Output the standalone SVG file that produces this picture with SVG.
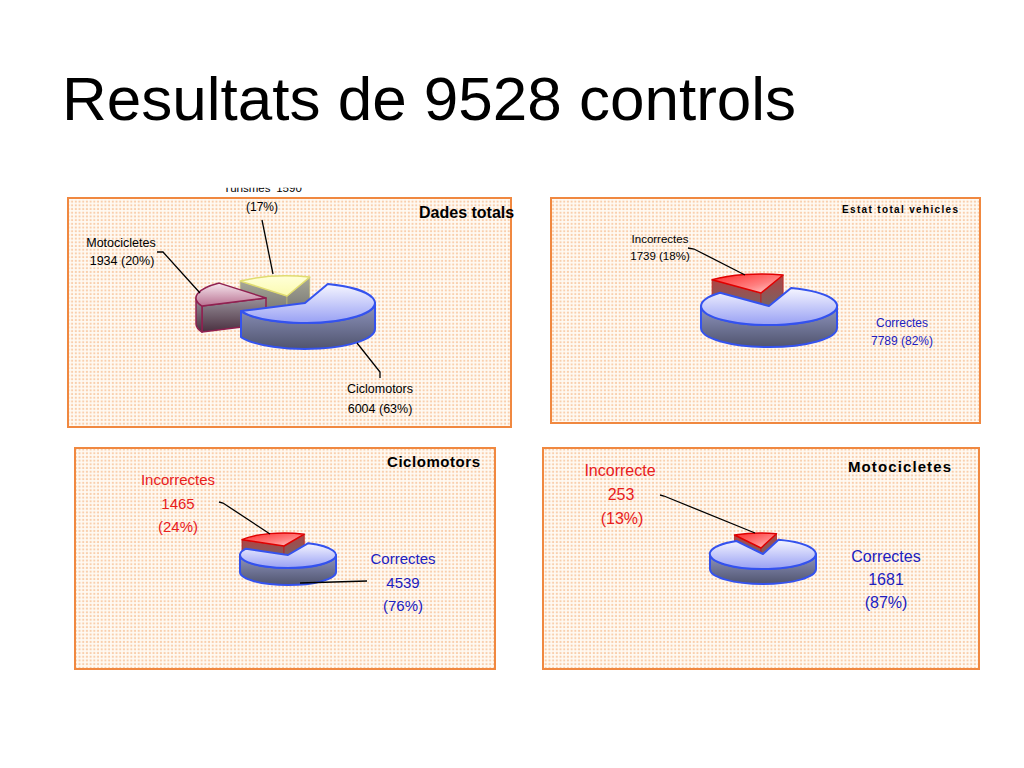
<svg xmlns="http://www.w3.org/2000/svg" width="1024" height="768" viewBox="0 0 1024 768">
<defs>
<pattern id="dots" width="3.7" height="3.7" patternUnits="userSpaceOnUse">
<rect width="3.7" height="3.7" fill="#fffaf3"/>
<rect x="0.8" y="0.8" width="2" height="2" fill="#f9cfad"/>
</pattern>
<linearGradient id="blueTop" x1="0" y1="0" x2="0" y2="1">
<stop offset="0" stop-color="#f6f6ff"/><stop offset="1" stop-color="#98a0f4"/>
</linearGradient>
<linearGradient id="blueSide" x1="0" y1="0" x2="0" y2="1">
<stop offset="0" stop-color="#9096c0"/><stop offset="1" stop-color="#50546e"/>
</linearGradient>
<linearGradient id="redTop" x1="0" y1="0" x2="1" y2="1">
<stop offset="0" stop-color="#ff2a2a"/><stop offset="0.6" stop-color="#ff8080"/><stop offset="1" stop-color="#ffd8d8"/>
</linearGradient>
<linearGradient id="redSide" x1="0" y1="0" x2="0" y2="1">
<stop offset="0" stop-color="#b04444"/><stop offset="1" stop-color="#6a6a6a"/>
</linearGradient>
<linearGradient id="yelTop" x1="0" y1="0" x2="0" y2="1">
<stop offset="0" stop-color="#ffffd8"/><stop offset="1" stop-color="#fbfbb0"/>
</linearGradient>
<linearGradient id="greySide" x1="0" y1="0" x2="0" y2="1">
<stop offset="0" stop-color="#a8a898"/><stop offset="1" stop-color="#686868"/>
</linearGradient>
<linearGradient id="marTop" x1="0" y1="0" x2="0" y2="1">
<stop offset="0" stop-color="#f6e6ee"/><stop offset="1" stop-color="#b87090"/>
</linearGradient>
<linearGradient id="marSide" x1="0" y1="0" x2="0" y2="1">
<stop offset="0" stop-color="#98909a"/><stop offset="1" stop-color="#4a3040"/>
</linearGradient>
<clipPath id="clipTur"><rect x="200" y="187.8" width="120" height="10"/></clipPath>
</defs>
<style>
.box{fill:url(#dots);stroke:#f08840;stroke-width:2}
.bt{fill:url(#blueTop);stroke:#3452ee;stroke-width:2;stroke-linejoin:round}
.bs{fill:url(#blueSide);stroke:#3452ee;stroke-width:2;stroke-linejoin:round}
.rt{fill:url(#redTop);stroke:#e00000;stroke-width:1.5;stroke-linejoin:round}
.rs{fill:url(#redSide);stroke:#c02020;stroke-width:0.8}
.yt{fill:url(#yelTop);stroke:#e0dc70;stroke-width:1.5;stroke-linejoin:round}
.ys{fill:url(#greySide);stroke:#c8c070;stroke-width:0.6}
.mt{fill:url(#marTop);stroke:#902050;stroke-width:1.5;stroke-linejoin:round}
.ms{fill:url(#marSide);stroke:#902050;stroke-width:1.5;stroke-linejoin:round}
.lead{fill:none;stroke:#000;stroke-width:1.3}
text{font-family:"Liberation Sans",Arial,sans-serif}
.ttl{font-weight:bold;fill:#000}
.lbl{fill:#000;text-anchor:middle}
.red{fill:#e8201c;text-anchor:middle}
.blu{fill:#2020c0;text-anchor:middle}
</style>
<rect width="1024" height="768" fill="#ffffff"/>
<text id="title" x="62" y="120" font-size="62" fill="#000">Resultats de 9528 controls</text>

<g id="chart-dades-totals">
<rect class="box" x="68" y="198" width="443" height="229"/>
<g clip-path="url(#clipTur)">
<text class="lbl" x="247" y="191.5" font-size="11.5">Turismes</text>
<text class="lbl" x="289" y="191.5" font-size="11.5">1590</text>
</g>
<text class="lbl" x="262" y="211" font-size="12">(17%)</text>
<text class="ttl" x="419" y="218" font-size="16">Dades totals</text>
<text class="lbl" x="121" y="247" font-size="12.5">Motocicletes</text>
<text class="lbl" x="122" y="265" font-size="12.5">1934 (20%)</text>
<text class="lbl" x="380" y="393" font-size="12.5">Ciclomotors</text>
<text class="lbl" x="380" y="413" font-size="12.5">6004 (63%)</text>
<g id="slice-turismes">
<path class="ys" d="M287,296 L240.2,281.1 L240.2,307.1 L287,322 Z"/>
<path class="ys" d="M287,296 L309.8,277.1 L309.8,303.1 L287,322 Z"/>
<path class="yt" d="M287,296 L240.2,281.1 A70,20 0 0,1 309.8,277.1 Z"/>
</g>
<g id="slice-motocicletes">
<path class="ms" d="M266,298 L202,306.1 L202,332.1 L266,324 Z"/>
<path class="ms" d="M202,306.1 A70,20 0 0,1 196,298 L196,324 A70,20 0 0,0 202,332.1 Z"/>
<path class="mt" d="M266,298 L202,306.1 A70,20 0 0,1 219.2,283.1 Z"/>
</g>
<g id="slice-ciclomotors">
<path class="bs" d="M375,303 A70,20 0 0,1 241,311.1 L241,337.1 A70,20 0 0,0 375,329 Z"/>
<path class="bt" d="M305,303 L327.8,284.1 A70,20 0 1,1 241,311.1 Z"/>
</g>
</g>

<g id="chart-estat-total">
<rect class="box" x="551" y="198" width="429" height="225"/>
<text class="ttl" x="842" y="213" font-size="10" textLength="116" lengthAdjust="spacing">Estat total vehicles</text>
<text class="lbl" x="660" y="243" font-size="11.5">Incorrectes</text>
<text class="lbl" x="660" y="260" font-size="11.5">1739 (18%)</text>
<text class="blu" x="902" y="327" font-size="12">Correctes</text>
<text class="blu" x="902" y="345" font-size="12">7789 (82%)</text>
<g id="slice-incorrectes-total">
<path class="rs" d="M761,293 L712.1,279.8 L712.1,301.8 L761,315 Z"/>
<path class="rs" d="M761,293 L783.1,275 L783.1,297 L761,315 Z"/>
<path class="rt" d="M761,293 L712.1,279.8 A68,19 0 0,1 783.1,275 Z"/>
</g>
<g id="slice-correctes-total">
<path class="bs" d="M837,306 A68,19 0 0,1 701,306 L701,328 A68,19 0 0,0 837,328 Z"/>
<path class="bt" d="M769,306 L791.1,288 A68,19 0 1,1 720.1,292.8 Z"/>
</g>
</g>

<g id="chart-ciclomotors">
<rect class="box" x="75" y="448" width="420" height="221"/>
<text class="ttl" x="387" y="467" font-size="15" textLength="93" lengthAdjust="spacing">Ciclomotors</text>
<text class="red" x="178" y="485" font-size="15">Incorrectes</text>
<text class="red" x="178" y="509" font-size="15">1465</text>
<text class="red" x="178" y="532" font-size="15">(24%)</text>
<text class="blu" x="403" y="564" font-size="15">Correctes</text>
<text class="blu" x="403" y="588" font-size="15">4539</text>
<text class="blu" x="403" y="611" font-size="15">(76%)</text>
<g id="slice-incorrectes-ciclo">
<path class="rs" d="M284,546 L242,539.7 L242,556.7 L284,563 Z"/>
<path class="rs" d="M284,546 L304.3,534.2 L304.3,551.2 L284,563 Z"/>
<path class="rt" d="M284,546 L242,539.7 A48,13 0 0,1 304.3,534.2 Z"/>
</g>
<g id="slice-correctes-ciclo">
<path class="bs" d="M336,555 A48,13 0 0,1 240,555 L240,572 A48,13 0 0,0 336,572 Z"/>
<path class="bt" d="M288,555 L308.3,543.2 A48,13 0 1,1 246,548.7 Z"/>
</g>
</g>

<g id="chart-motocicletes">
<rect class="box" x="543" y="448" width="436" height="221"/>
<text class="ttl" x="848" y="472" font-size="15" textLength="103" lengthAdjust="spacing">Motocicletes</text>
<text class="red" x="620" y="476" font-size="16">Incorrecte</text>
<text class="red" x="621" y="500" font-size="16">253</text>
<text class="red" x="622" y="524" font-size="16">(13%)</text>
<text class="blu" x="886" y="562" font-size="16">Correctes</text>
<text class="blu" x="886" y="585" font-size="16">1681</text>
<text class="blu" x="886" y="608" font-size="16">(87%)</text>
<g id="slice-incorrectes-moto">
<path class="rs" d="M761,548 L734.5,535 L734.5,550 L761,563 Z"/>
<path class="rs" d="M761,548 L776.5,533.7 L776.5,548.7 L761,563 Z"/>
<path class="rt" d="M761,548 L734.5,535 A53,15 0 0,1 776.5,533.7 Z"/>
</g>
<g id="slice-correctes-moto">
<path class="bs" d="M816,554 A53,15 0 0,1 710,554 L710,569 A53,15 0 0,0 816,569 Z"/>
<path class="bt" d="M763,554 L778.5,539.7 A53,15 0 1,1 736.5,541 Z"/>
</g>
</g>

<g id="connectors">
<polyline class="lead" points="157,252 163,252 200,293"/>
<polyline class="lead" points="262,220 273,274"/>
<polyline class="lead" points="357,343 380,372 380,378"/>
<polyline class="lead" points="688,248 694,249 745,275"/>
<polyline class="lead" points="219,502 223,503 270,534"/>
<polyline class="lead" points="300,583 367,581"/>
<polyline class="lead" points="660,495 664,496 755,533"/>
</g>
</svg>
